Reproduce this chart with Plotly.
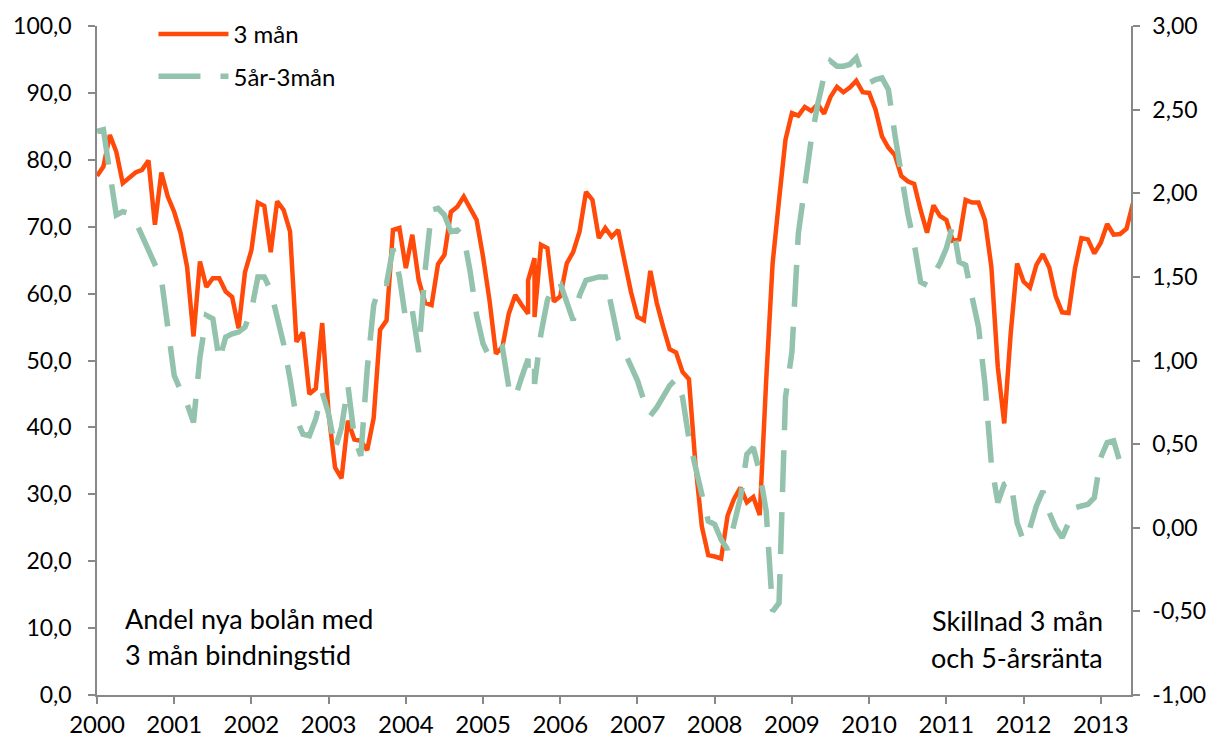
import plotly.graph_objects as go

# ---------------- data ----------------
years = [str(y) for y in range(2000, 2014)]

# Share of new mortgages with 3-month fixed rate (%), monthly from Jan 2000.
# A tuple means two observations plotted at the same month.
andel_3man = [
    77.6, 79.0, 83.7, 81.2, 76.5, 77.4, 78.1, 78.5, 79.9, 70.3, 78.1, 74.5,   # 2000
    72.2, 69.0, 64.0, 53.6, 64.8, 61.0, 62.3, 62.3, 60.3, 59.5, 54.8, 63.2,   # 2001
    66.5, 73.6, 73.1, 66.2, 73.8, 72.5, 69.3, 52.8, 54.2, 45.0, 45.8, 55.6,   # 2002
    42.0, 34.0, 32.4, 41.0, 38.2, 38.0, 36.6, 41.4, 54.6, 56.0, 69.5, 69.8,   # 2003
    63.8, 68.8, 62.0, 58.6, 58.3, 64.4, 65.8, 72.2, 73.0, 74.5, 72.7, 71.0,   # 2004
    65.5, 59.0, 51.0, 52.0, 57.0, 59.8, 58.3, (57.0, 62.0), (65.3, 56.5), 67.3, 66.8, 58.8,  # 2005
    59.6, 64.5, 66.2, 69.3, 75.2, 74.0, 68.3, 69.8, 68.5, 69.5, 64.8, 60.2,   # 2006
    56.5, 56.0, 63.4, 58.6, 55.0, 51.7, 51.2, 48.3, 47.2, 34.6, 25.2, 20.9,   # 2007
    20.7, 20.4, 26.8, 29.3, 31.0, 28.8, 29.6, 26.9, 47.0, 64.5, 74.0, 83.0,   # 2008
    87.0, 86.6, 87.9, 87.3, 88.3, 86.9, 89.4, 90.9, 90.1, 90.8, 91.8, 90.1,   # 2009
    90.0, 87.5, 83.5, 81.8, 80.7, 77.6, 76.8, 76.4, 72.5, 69.1, 73.2, 71.6,   # 2010
    71.0, 67.9, 68.1, 74.0, 73.6, 73.6, 71.0, 64.0, 49.0, 40.6, 54.0, 64.5,   # 2011
    61.8, 60.9, 64.3, 65.9, 63.9, 59.6, 57.2, 57.1, 63.8, 68.3, 68.1, 66.0,   # 2012
    67.6, 70.4, 68.8, 68.9, 69.7, 73.5,                                       # 2013
]

# Spread 5-year rate minus 3-month rate (percentage points), monthly from Jan 2000.
skillnad_5ar_3man = [
    2.37, 2.38, 2.12, 1.87, 1.89, 1.88, 1.83, 1.74, 1.65, 1.58, 1.49, 1.20,   # 2000
    0.91, 0.82, 0.74, 0.63, 1.02, 1.27, 1.25, 1.00, 1.14, 1.16, 1.17, 1.20,   # 2001
    1.30, 1.50, 1.50, 1.42, 1.26, 1.10, 0.89, 0.65, 0.56, 0.55, 0.65, 0.81,   # 2002
    0.68, 0.47, 0.60, 0.85, 0.54, 0.43, 0.95, 1.33, 1.46, 1.46, 1.67, 1.50,   # 2003
    1.24, 1.30, 1.05, 1.54, 1.90, 1.91, 1.87, 1.77, 1.78, 1.74, 1.53, 1.27,   # 2004
    1.10, 1.02, 1.05, 1.08, 0.84, 0.78, 0.90, (1.01, 0.93), (0.98, 0.86), 1.16, 1.36, 1.46,  # 2005
    1.46, 1.35, 1.24, 1.39, 1.48, 1.49, 1.50, 1.50, 1.33, 1.13, 1.05, 0.97,   # 2006
    0.88, 0.76, 0.67, 0.72, 0.79, 0.85, 0.89, 0.78, 0.53, 0.38, 0.20, 0.04,   # 2007
    0.02, -0.07, -0.13, 0.02, 0.18, 0.44, 0.48, 0.33, 0.10, -0.50, -0.45, 0.78,  # 2008
    1.05, 1.76, 2.05, 2.32, 2.53, 2.70, 2.79, 2.76, 2.76, 2.77, 2.81, 2.70,   # 2009
    2.66, 2.68, 2.69, 2.62, 2.35, 2.10, 1.88, 1.70, 1.47, 1.45, 1.51, 1.58,   # 2010
    1.67, 1.81, 1.59, 1.57, 1.38, 1.20, 0.86, 0.38, 0.15, 0.26, 0.28, 0.03,   # 2011
    -0.08, 0.00, 0.13, 0.22, 0.09, 0.00, -0.06, 0.04, 0.12, 0.13, 0.14, 0.18, # 2012
    0.42, 0.51, 0.52, 0.39, 0.37, None,                                       # 2013
]

left_tick_values = [0, 10, 20, 30, 40, 50, 60, 70, 80, 90, 100]
left_tick_text = ["0,0", "10,0", "20,0", "30,0", "40,0", "50,0", "60,0", "70,0", "80,0", "90,0", "100,0"]
right_tick_values = [-1.0, -0.5, 0.0, 0.5, 1.0, 1.5, 2.0, 2.5, 3.0]
right_tick_text = ["-1,00", "-0,50", "0,00", "0,50", "1,00", "1,50", "2,00", "2,50", "3,00"]

series_names = ["3 mån", "5år-3mån"]
left_note = ["Andel nya bolån med", "3 mån bindningstid"]
right_note = ["Skillnad 3 mån", "och 5-årsränta"]


def expand(values):
    """Month index (0 = Jan 2000) for each observation."""
    xs, ys = [], []
    for i, v in enumerate(values):
        if isinstance(v, tuple):
            for w in v:
                xs.append(i)
                ys.append(w)
        else:
            xs.append(i)
            ys.append(v)
    return xs, ys


# ---------------- figure ----------------
ORANGE = "#FF4A0A"
GREEN = "#93C2AD"
GREY = "#888888"
FONT = "Lato, 'Liberation Sans', sans-serif"

x1, y1 = expand(andel_3man)
x2, y2 = expand(skillnad_5ar_3man)

fig = go.Figure()
fig.add_trace(go.Scatter(
    x=x1, y=y1, name=series_names[0], mode="lines", yaxis="y",
    legendgroup="a",
    line=dict(color=ORANGE, width=4.5),
))
fig.add_trace(go.Scatter(
    x=x2, y=y2, name=series_names[1], mode="lines", yaxis="y2",
    legendgroup="b", connectgaps=False,
    line=dict(color=GREEN, width=5.5, dash="42px,20px"),
))

axis_common = dict(
    showgrid=False, zeroline=False, showline=True, linecolor=GREY, linewidth=1.5,
    ticks="outside", ticklen=7, tickwidth=1.5, tickcolor=GREY, automargin=False,
    tickfont=dict(family=FONT, size=23, color="#000000"),
)

fig.update_layout(
    width=1215, height=740,
    margin=dict(l=97, r=84, t=26, b=45),
    paper_bgcolor="white", plot_bgcolor="white",
    font=dict(family=FONT, size=23, color="#000000"),
    showlegend=True,
    legend=dict(
        x=0.0546, y=1.021, xanchor="left", yanchor="top",
        font=dict(family=FONT, size=24, color="#000000"),
        itemwidth=70, tracegroupgap=8, bgcolor="rgba(0,0,0,0)",
    ),
    xaxis=dict(
        range=[0, 160.7],
        tickvals=[12 * i for i in range(len(years))], ticktext=years,
        ticklabelstandoff=0,
        **axis_common,
    ),
    yaxis=dict(
        range=[0, 100], tickvals=left_tick_values, ticktext=left_tick_text,
        ticklabelstandoff=12,
        **axis_common,
    ),
    yaxis2=dict(
        range=[-1, 3], overlaying="y", side="right",
        tickvals=right_tick_values, ticktext=right_tick_text,
        ticklabelstandoff=8,
        **axis_common,
    ),
)
fig.update_xaxes(tickfont=dict(family=FONT, size=24, color="#000000"))

# text notes inside the plot
for i, line in enumerate(left_note):
    fig.add_annotation(
        text=line, xref="paper", yref="paper",
        x=(123 - 97) / 1034, y=(695 - (618 + 36 * i)) / 669,
        xanchor="left", yanchor="middle", showarrow=False,
        font=dict(family=FONT, size=27, color="#000000"),
    )
for i, line in enumerate(right_note):
    fig.add_annotation(
        text=line, xref="paper", yref="paper",
        x=(1017 - 97) / 1034, y=(695 - (620 + 37 * i)) / 669,
        xanchor="center", yanchor="middle", showarrow=False,
        font=dict(family=FONT, size=27, color="#000000"),
    )

fig.write_html("out.html", config={"displayModeBar": False},
               post_script="document.body.style.margin='0';")
